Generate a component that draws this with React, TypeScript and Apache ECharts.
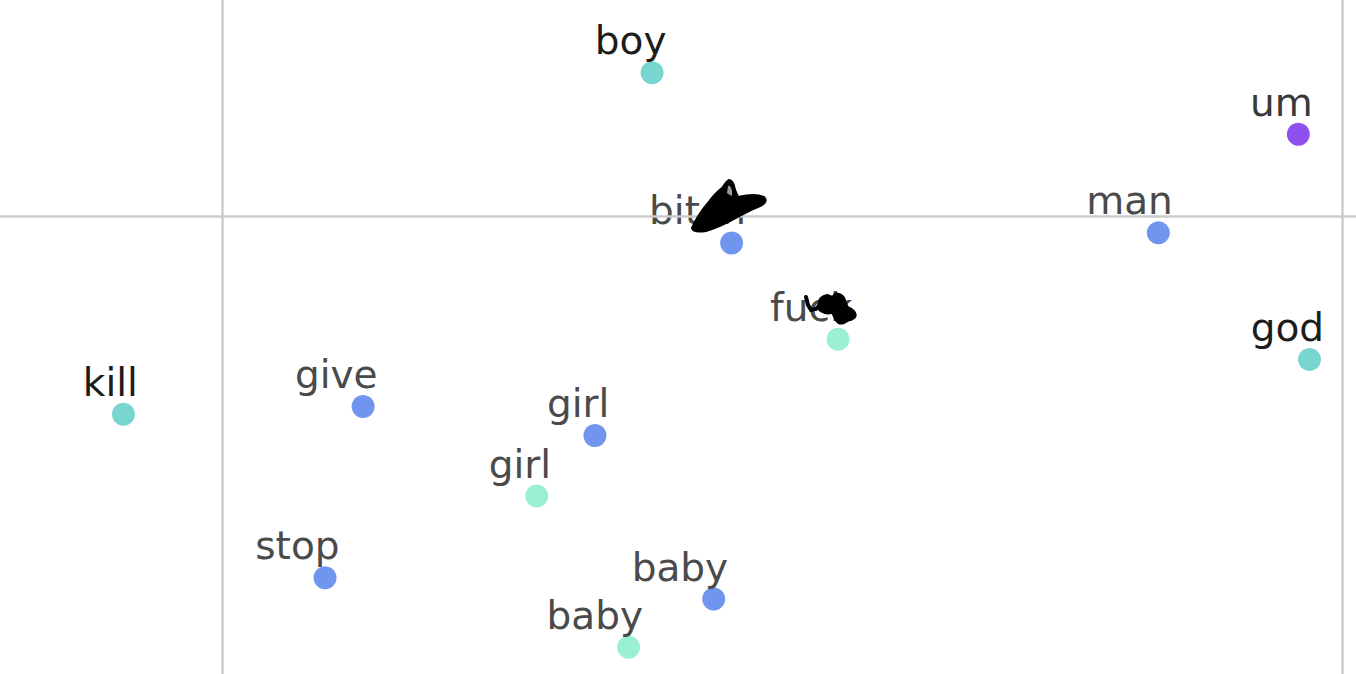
import { useEffect, useRef } from "react";
import * as echarts from "echarts";

// word embedding projection
const words = ["boy", "um", "bitch", "man", "fuck", "god", "kill", "give", "girl", "girl", "stop", "baby", "baby"];
const xs = [0.384, 0.961, 0.455, 0.836, 0.55, 0.971, -0.088, 0.126, 0.333, 0.281, 0.092, 0.439, 0.363];
const ys = [0.128, 0.073, -0.024, -0.015, -0.11, -0.128, -0.177, -0.17, -0.196, -0.25, -0.323, -0.342, -0.385];
const groups = ["teal", "purple", "blue", "blue", "mint", "teal", "teal", "blue", "blue", "mint", "blue", "blue", "mint"];
const gridX = [0, 1];
const gridY = [0];

const groupColors: Record<string, string> = {
  teal: "#79d5cf",
  blue: "#6f95ef",
  mint: "#9af0d2",
  purple: "#8e50ee",
};
const textColors: Record<string, string> = {
  teal: "#1c1c1c",
  blue: "#4a4a4a",
  mint: "#4a4a4a",
  purple: "#383838",
};

// the black scribbles drawn over two of the words
const scribbleA =
  "M692,228 C696,219 702,210 708,203 C713,196 718,191 722,188 C725,184 727,181 729,180 C732,180 734,184 735,190 L738,197 C747,195 757,194 764,197 C768,201 764,205 758,207 C750,210 743,214 736,218 C727,223 717,228 706,231 C700,232 693,232 692,228 Z";
const finA = "M728,186 C730,185 731,187 732,191 L732,196 C730,195 728,194 727,193 Z";
const scribbleB =
  "M818,306 C818,300 821,296 826,295 C829,294 831,297 833,296 C835,292 840,293 843,296 C846,299 846,304 848,307 C852,309 856,311 856,315 C856,319 851,320 848,321 C845,323 842,325 838,323 C835,321 834,317 832,313 C829,314 825,314 822,312 C819,311 818,309 818,306 Z";

echarts.graphic.registerShape("scribbleA", echarts.graphic.extendPath(scribbleA, {}));
echarts.graphic.registerShape("finA", echarts.graphic.extendPath(finA, {}));
echarts.graphic.registerShape("scribbleB", echarts.graphic.extendPath(scribbleB, {}));

const App: React.FC = () => {
  const chartRef = useRef<HTMLDivElement>(null);

  useEffect(() => {
    document.body.style.margin = "0";
    if (!chartRef.current) return;
    const chart = echarts.init(chartRef.current, null, { renderer: "svg" });

    const groupNames = ["teal", "blue", "mint", "purple"];
    const series: any[] = groupNames.map((g) => ({
      type: "scatter",
      name: g,
      symbolSize: 23,
      itemStyle: { color: groupColors[g], opacity: 1 },
      label: {
        show: true,
        formatter: (p: any) => p.data.name,
        position: [26, -1],
        align: "right",
        verticalAlign: "bottom",
        fontFamily: "DejaVu Sans",
        fontSize: 39,
        color: textColors[g],
      },
      data: words
        .map((w, i) => ({ name: w, value: [xs[i], ys[i]], g: groups[i] }))
        .filter((d) => d.g === g)
        .map((d) => ({ name: d.name, value: d.value })),
      z: 3,
    }));

    series.unshift({
      type: "scatter",
      data: [],
      z: 1,
      markLine: {
        silent: true,
        symbol: ["none", "none"],
        label: { show: false },
        lineStyle: { color: "#cccccc", width: 2.5, type: "solid" },
        data: [...gridX.map((v) => ({ xAxis: v })), ...gridY.map((v) => ({ yAxis: v }))],
      },
    });

    chart.setOption({
      animation: false,
      backgroundColor: "#ffffff",
      grid: { left: 0, right: 0, top: 0, bottom: 0 },
      xAxis: {
        type: "value",
        min: -0.1982,
        max: 1.0125,
        show: false,
        splitLine: { show: false },
      },
      yAxis: {
        type: "value",
        min: -0.4089,
        max: 0.1929,
        show: false,
        splitLine: { show: false },
      },
      series,
      graphic: [
        { type: "scribbleA", x: 0, y: 0, z: 100, style: { fill: "#000000", stroke: "#000000", lineWidth: 2 } },
        { type: "finA", x: 0, y: 0, z: 101, style: { fill: "#9a9a9a", stroke: "none" } },
        { type: "scribbleB", x: 0, y: 0, z: 100, style: { fill: "#000000", stroke: "#000000", lineWidth: 1.5 } },
        {
          type: "polyline",
          z: 100,
          shape: { points: [[806, 297], [808, 305], [811, 310], [816, 309], [820, 305]] },
          style: { stroke: "#000000", lineWidth: 4, fill: "none", lineCap: "round" },
        },
      ],
    });

    return () => {
      chart.dispose();
    };
  }, []);

  return <div ref={chartRef} style={{ width: "1356px", height: "674px" }} />;
};

export default App;
